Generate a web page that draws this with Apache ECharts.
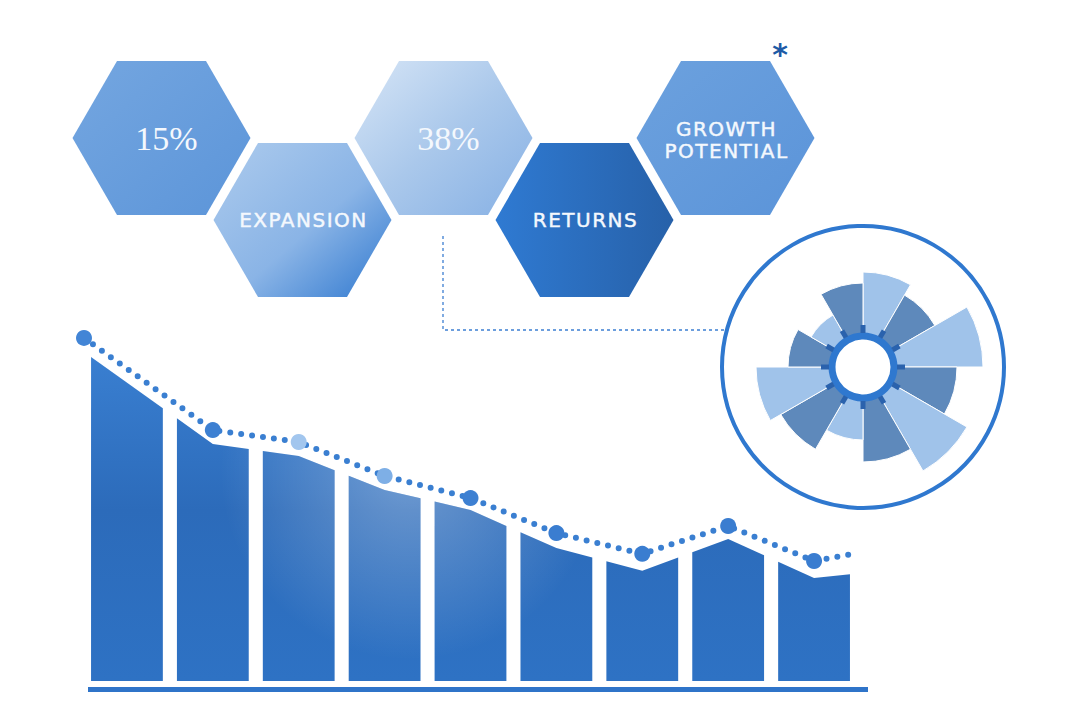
<!DOCTYPE html>
<html><head><meta charset="utf-8">
<script src="https://cdn.jsdelivr.net/npm/echarts@6/dist/echarts.min.js"></script>
<style>html,body{margin:0;padding:0;background:#fff}#main{width:1080px;height:720px}</style>
</head><body><div id="main"></div>
<script>
// ---------------- data ----------------
const hexLabels = ['15%', 'EXPANSION', '38%', 'RETURNS', 'GROWTH\nPOTENTIAL'];
const periods = [1, 2, 3, 4, 5, 6, 7, 8, 9];
const trendX = [0.5, 2, 3, 4, 5, 6, 7, 8, 9, 9.5];
const trendValues = [100.9, 73.8, 70.3, 60.3, 53.8, 43.5, 37.4, 45.6, 35.3, 37.6];
const barTopValues = [96.8, 69.7, 66.2, 56.2, 50.3, 39.1, 32.4, 41.8, 30.3, 31.6];
const roseSectors = ['S1','S2','S3','S4','S5','S6','S7','S8','S9','S10','S11','S12'];
const roseValues = [95, 83, 120, 94, 120, 95, 73, 95, 107, 75, 60, 84];

// ---------------- layout / styles ----------------
const chart = echarts.init(document.getElementById('main'), null, {renderer: 'svg'});
const HEX_R = 89;
const hexFills = [
  {type:'linear',x:0,y:0,x2:1,y2:1,colorStops:[{offset:0,color:'#74a6e0'},{offset:1,color:'#5c95d9'}]},
  {type:'linear',x:0,y:0,x2:1,y2:1,colorStops:[{offset:0,color:'#adcbed'},{offset:0.55,color:'#8ab4e6'},{offset:1,color:'#2f78cf'}]},
  {type:'linear',x:0,y:0,x2:1,y2:1,colorStops:[{offset:0,color:'#d6e5f6'},{offset:0.5,color:'#aac8eb'},{offset:1,color:'#86b0e4'}]},
  {type:'linear',x:0,y:0,x2:1,y2:0,colorStops:[{offset:0,color:'#2f7ad2'},{offset:1,color:'#2761a9'}]},
  {type:'linear',x:0,y:0,x2:1,y2:1,colorStops:[{offset:0,color:'#6ca1de'},{offset:1,color:'#5b94d9'}]}
];
const hexGraphics = hexLabels.map((label, k) => {
  const cx = 161.5 + 141 * k, cy = (k % 2) ? 220 : 138;
  const h = HEX_R * Math.sqrt(3) / 2;
  const pts = [[cx - HEX_R, cy], [cx - HEX_R / 2, cy - h], [cx + HEX_R / 2, cy - h],
               [cx + HEX_R, cy], [cx + HEX_R / 2, cy + h], [cx - HEX_R / 2, cy + h]];
  const isNum = /%/.test(label);
  return {
    type: 'group', children: [
      {type: 'polygon', shape: {points: pts}, style: {fill: hexFills[k]}},
      {type: 'text', style: {
        text: label, x: cx + (isNum ? 5 : 1), y: cy + (k === 4 ? 2 : 0),
        fill: '#f4f8fd',
        stroke: isNum ? null : '#f4f8fd', lineWidth: isNum ? 0 : 0.45,
        font: isNum ? '34px "Liberation Serif"' : '20px "DejaVu Sans"',
        lineHeight: 22,
        textAlign: 'center', textVerticalAlign: 'middle', align: 'center', verticalAlign: 'middle'
      }}
    ]
  };
});

const ROSE_C = [863, 367];
const tickGraphics = roseSectors.map((s, k) => {
  const a = k * Math.PI / 6;
  const sx = Math.sin(a), cy = -Math.cos(a);
  return {type: 'line', z: 102, shape: {
      x1: ROSE_C[0] + 34 * sx, y1: ROSE_C[1] + 34 * cy,
      x2: ROSE_C[0] + 42 * sx, y2: ROSE_C[1] + 42 * cy},
    style: {stroke: '#2a62ad', lineWidth: 5}};
});

function topAt(x) {
  for (let j = 0; j < trendX.length - 1; j++) {
    if (x >= trendX[j] && x <= trendX[j + 1]) {
      const t = (x - trendX[j]) / (trendX[j + 1] - trendX[j]);
      return barTopValues[j] + t * (barTopValues[j + 1] - barTopValues[j]);
    }
  }
  return barTopValues[barTopValues.length - 1];
}
const BAR_HALF = 0.418;
const barGrad = new echarts.graphic.LinearGradient(0, 340, 0, 681, [
  {offset: 0, color: '#3b81d3'}, {offset: 0.5, color: '#2c6bba'}, {offset: 1, color: '#2e72c4'}], true);
const glow = new echarts.graphic.RadialGradient(410, 470, 190, [
  {offset: 0, color: 'rgba(255,255,255,0.32)'}, {offset: 1, color: 'rgba(255,255,255,0)'}], true);

const dotColors = ['#4285d6', '#3d80d2', '#a2c6ee', '#7eafe6', '#3d80d2', '#3a7dd0', '#3a7dd0', '#3a7dd0', '#3a7dd0', null];

const option = {
  animation: false,
  backgroundColor: '#ffffff',
  grid: {left: 84, right: 223, top: 307, bottom: 39},
  xAxis: {type: 'value', min: 0.5, max: 9.5, show: false},
  yAxis: {type: 'value', min: 0, max: 110, show: false},
  polar: {center: ROSE_C, radius: [0, 141]},
  angleAxis: {type: 'category', data: roseSectors, startAngle: 90, clockwise: true,
    axisLine: {show: false}, axisTick: {show: false}, axisLabel: {show: false}, splitLine: {show: false}},
  radiusAxis: {type: 'value', min: 0, max: 141,
    axisLine: {show: false}, axisTick: {show: false}, axisLabel: {show: false}, splitLine: {show: false}},
  series: [
    {
      type: 'custom', coordinateSystem: 'cartesian2d', z: 2,
      data: periods.map(p => [p, 0]), encode: {x: 0, y: 1},
      renderItem(params, api) {
        const i = api.value(0);
        const xl = i - BAR_HALF, xr = i + BAR_HALF;
        const pts = [api.coord([xl, 0]), api.coord([xl, topAt(xl)])];
        trendX.forEach((x, j) => { if (x > xl && x < xr) pts.push(api.coord([x, barTopValues[j]])); });
        pts.push(api.coord([xr, topAt(xr)]));
        pts.push(api.coord([xr, 0]));
        return {type: 'group', children: [
          {type: 'polygon', shape: {points: pts}, style: {fill: barGrad}},
          {type: 'polygon', shape: {points: pts}, style: {fill: glow}}
        ]};
      }
    },
    {
      type: 'line', z: 5, clip: false,
      data: trendX.map((x, j) => {
        const item = {value: [x, trendValues[j]]};
        if (dotColors[j]) item.itemStyle = {color: dotColors[j]};
        else item.symbolSize = 0;
        return item;
      }),
      symbol: 'circle', symbolSize: 16,
      lineStyle: {color: '#3a7fd1', width: 6, type: [0, 11], cap: 'round'},
      itemStyle: {color: '#3a7fd1', borderWidth: 0}
    },
    {
      type: 'bar', coordinateSystem: 'polar', barCategoryGap: '0%', z: 2,
      data: roseValues.map((v, k) => ({value: v, itemStyle: {color: k % 2 ? '#5e89bb' : '#a0c3ea'}})),
      itemStyle: {borderColor: '#ffffff', borderWidth: 1}
    }
  ],
  graphic: [
    ...hexGraphics,
    {type: 'text', z: 100, style: {text: '*', x: 780, y: 54, fill: '#1e5aa6', font: 'bold 30px "DejaVu Sans"',
      textAlign: 'center', textVerticalAlign: 'middle', align: 'center', verticalAlign: 'middle'}},
    {type: 'polyline', z: 100, shape: {points: [[443, 236], [443, 330], [724, 330]]},
      style: {stroke: '#3d7fd2', lineWidth: 1.3, lineDash: [3, 3], fill: null}},
    {type: 'circle', z: 100, shape: {cx: ROSE_C[0], cy: ROSE_C[1], r: 141},
      style: {stroke: '#2f78cf', lineWidth: 4, fill: null}},
    {type: 'circle', z: 101, shape: {cx: ROSE_C[0], cy: ROSE_C[1], r: 31},
      style: {stroke: '#2f78cf', lineWidth: 7, fill: '#ffffff'}},
    ...tickGraphics,
    {type: 'rect', z: 100, shape: {x: 88, y: 687, width: 780, height: 5}, style: {fill: '#2f74c9'}}
  ]
};
chart.setOption(option);

function spaceCaps() {
  document.querySelectorAll('#main text').forEach(t => {
    if (/^[A-Z\s]+$/.test(t.textContent.trim())) t.setAttribute('letter-spacing', '1.5px');
  });
}
chart.on('rendered', spaceCaps);
chart.on('finished', spaceCaps);
spaceCaps();
setTimeout(spaceCaps, 50);
</script></body></html>
